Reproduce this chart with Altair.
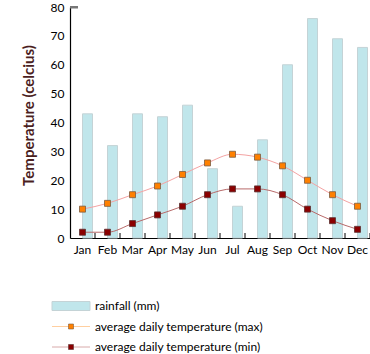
import altair as alt
import pandas as pd

months = ["Jan", "Feb", "Mar", "Apr", "May", "Jun", "Jul", "Aug", "Sep", "Oct", "Nov", "Dec"]
rainfall = [43, 32, 43, 42, 46, 24, 11, 34, 60, 76, 69, 66]
temp_max = [10, 12, 15, 18, 22, 26, 29, 28, 25, 20, 15, 11]
temp_min = [2, 2, 5, 8, 11, 15, 17, 17, 15, 10, 6, 3]

legend_labels = ["rainfall (mm)", "average daily temperature (max)", "average daily temperature (min)"]

df = pd.DataFrame({"month": months, "rain": rainfall, "tmax": temp_max, "tmin": temp_min})

FONT = "Lato"
W, H = 300, 231

xaxis = alt.Axis(title=None, domainColor="black", domainWidth=1.2, ticks=False,
                 labelAngle=0, labelFont=FONT, labelFontSize=12, labelColor="black",
                 labelPadding=6, grid=False, labelOverlap=False)
xscale = alt.Scale(paddingInner=0, paddingOuter=0)
yaxis = alt.Axis(title="Temperature (celcius)", values=list(range(0, 81, 10)),
                 ticks=False, domainColor="black", domainWidth=1.2, grid=False,
                 labelOverlap=False,
                 labelFont=FONT, labelFontSize=12, labelColor="black", labelPadding=6,
                 titleFont=FONT, titleFontSize=15, titleFontWeight="bold",
                 titleColor="#4b1e1e", titlePadding=14, titleY=108)
yscale = alt.Scale(domain=[0, 80], nice=False)


def X():
    return alt.X("month:N", sort=months, scale=xscale, axis=xaxis)


def Y(field):
    return alt.Y(f"{field}:Q", scale=yscale, axis=yaxis)


base = alt.Chart(df)

bars = base.mark_bar(width=10, xOffset=5, color="#c0e6eb", stroke="#c4d3d6", strokeWidth=1).encode(
    x=X(), y=Y("rain"))

line_max = base.mark_line(interpolate="monotone", color="#f4a3a3", strokeWidth=1).encode(
    x=X(), y=Y("tmax"))
pts_max = base.mark_square(size=36, fill="#ff8000", opacity=1, stroke="#7a5a40", strokeWidth=0.8).encode(
    x=X(), y=Y("tmax"))

line_min = base.mark_line(interpolate="monotone", color="#b86a6a", strokeWidth=1).encode(
    x=X(), y=Y("tmin"))
pts_min = base.mark_square(size=36, fill="#8b0000", opacity=1, stroke="#5a3030", strokeWidth=0.8).encode(
    x=X(), y=Y("tmin"))

# inner tick marks at band boundaries
ticks = base.mark_rule(color="black", strokeWidth=1, xOffset=12.5).encode(
    x=X(), y=alt.value(H), y2=alt.value(H - 5))

top_tick = alt.Chart(pd.DataFrame({"v": [80]})).mark_rect(color="#777777").encode(
    x=alt.value(0), x2=alt.value(8), y=alt.value(-1), y2=alt.value(1.5))

# legend
leg = pd.DataFrame({"label": legend_labels})
rows = [H + 68, H + 88.5, H + 109]
leg_rect = alt.Chart(leg.iloc[[0]]).mark_rect(color="#c0e6eb", stroke="#c4d3d6").encode(
    x=alt.value(-18), x2=alt.value(20), y=alt.value(rows[0] - 4.5), y2=alt.value(rows[0] + 4.5))
leg_text = [
    alt.Chart(leg.iloc[[i]]).mark_text(align="left", baseline="middle", font=FONT, fontSize=12, color="black").encode(
        x=alt.value(25), y=alt.value(rows[i]), text="label:N")
    for i in range(3)
]
leg_l1 = alt.Chart(leg.iloc[[1]]).mark_rule(color="#ffcfa0").encode(
    x=alt.value(-18), x2=alt.value(20), y=alt.value(rows[1]))
leg_p1 = alt.Chart(leg.iloc[[1]]).mark_square(size=25, fill="#ff8000", opacity=1, stroke="#7a5a40", strokeWidth=0.6).encode(
    x=alt.value(1), y=alt.value(rows[1]))
leg_l2 = alt.Chart(leg.iloc[[2]]).mark_rule(color="#d8aaaa").encode(
    x=alt.value(-18), x2=alt.value(20), y=alt.value(rows[2]))
leg_p2 = alt.Chart(leg.iloc[[2]]).mark_square(size=25, fill="#8b0000", opacity=1, stroke="#5a3030", strokeWidth=0.6).encode(
    x=alt.value(1), y=alt.value(rows[2]))

chart = alt.layer(bars, ticks, top_tick, line_max, line_min, pts_max, pts_min,
                  leg_rect, leg_l1, leg_p1, leg_l2, leg_p2, *leg_text).properties(
    width=W, height=H,
    autosize=alt.AutoSizeParams(type="none"),
    padding={"left": 70, "top": 7, "right": 0, "bottom": 116},
).configure(background="white").configure_view(stroke=None)

chart.save("out.html", embed_options={"renderer": "svg", "actions": False})
